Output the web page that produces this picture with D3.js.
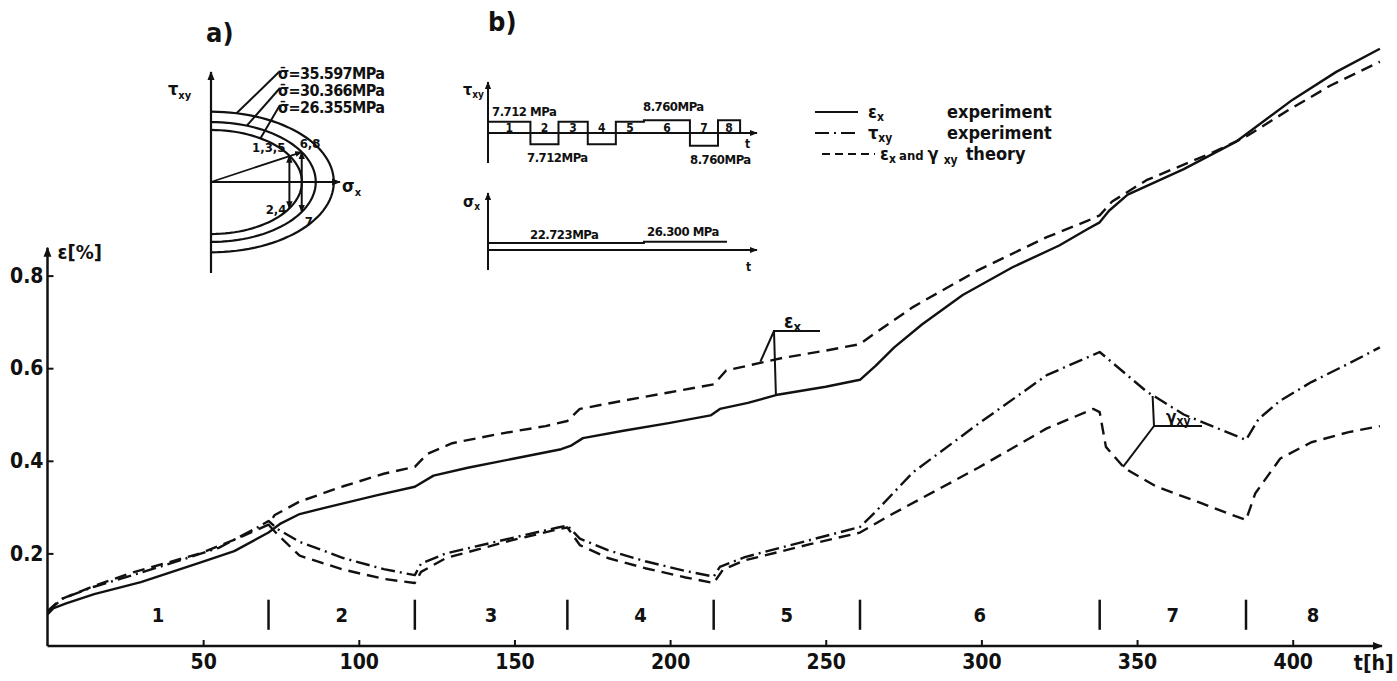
<!DOCTYPE html>
<html>
<head>
<meta charset="utf-8">
<script src="https://cdn.jsdelivr.net/npm/d3@7"></script>
<style>
  body { margin: 0; background: #fff; }
  svg text { font-family: "DejaVu Sans Condensed", "DejaVu Sans", sans-serif; font-weight: bold; fill: #111; }
</style>
</head>
<body>
<svg id="chart" width="1397" height="681"></svg>
<script>
// ---- data ----
const periodBounds = [0, 71, 118, 167, 214, 261, 338, 385];
const periodEnd = 428;
const periodLabels = ["1", "2", "3", "4", "5", "6", "7", "8"];
const xTicks = [50, 100, 150, 200, 250, 300, 350, 400];
const yTicks = [0.2, 0.4, 0.6, 0.8];

// [t (h), strain (%)]
const epsExperiment = [[0,0.068],[2,0.082],[6,0.092],[15,0.112],[30,0.138],[49,0.18],[60,0.205],[71,0.245],[75,0.265],[81,0.285],[90,0.3],[106,0.326],[118,0.344],[124,0.368],[135,0.385],[150,0.405],[165,0.425],[168,0.432],[172,0.449],[185,0.465],[200,0.482],[213,0.498],[216,0.512],[225,0.525],[234,0.542],[250,0.56],[261,0.575],[266,0.605],[272,0.645],[281,0.695],[294,0.758],[310,0.818],[325,0.865],[334,0.9],[338,0.915],[341,0.94],[347,0.975],[365,1.03],[382,1.09],[386,1.11],[400,1.18],[414,1.24],[428,1.29]];
const gammaExperiment = [[0,0.075],[5,0.103],[15,0.128],[38,0.175],[55,0.212],[68,0.258],[71,0.27],[74,0.252],[81,0.225],[95,0.19],[108,0.166],[118,0.153],[120,0.178],[128,0.2],[149,0.233],[164,0.256],[167,0.26],[171,0.232],[180,0.207],[192,0.183],[205,0.162],[214,0.15],[216,0.171],[224,0.192],[245,0.229],[261,0.257],[266,0.29],[278,0.375],[299,0.48],[321,0.585],[338,0.635],[353,0.55],[365,0.5],[385,0.445],[389,0.49],[396,0.53],[406,0.57],[418,0.61],[428,0.645]];
const epsTheory = [[0,0.075],[4,0.1],[15,0.13],[27,0.158],[49,0.2],[62,0.235],[71,0.262],[73,0.283],[81,0.312],[95,0.345],[108,0.372],[118,0.387],[122,0.415],[130,0.438],[145,0.458],[160,0.475],[167,0.486],[171,0.512],[185,0.53],[200,0.548],[214,0.565],[218,0.595],[226,0.607],[236,0.622],[250,0.638],[261,0.652],[264,0.667],[278,0.732],[299,0.812],[321,0.883],[334,0.918],[338,0.93],[342,0.96],[353,1.006],[374,1.065],[385,1.1],[398,1.155],[412,1.21],[428,1.262]];
const gammaTheory = [[71,0.262],[74,0.24],[81,0.195],[95,0.165],[108,0.145],[118,0.136],[120,0.16],[128,0.19],[149,0.228],[164,0.252],[167,0.256],[171,0.218],[180,0.19],[192,0.168],[205,0.148],[214,0.136],[217,0.165],[224,0.185],[245,0.22],[261,0.245],[270,0.28],[299,0.385],[321,0.47],[336,0.512],[338,0.505],[340,0.43],[346,0.384],[356,0.345],[370,0.31],[385,0.272],[388,0.33],[396,0.405],[406,0.44],[418,0.462],[428,0.475]];

// inset a): yield surfaces and stress states (MPa)
const sigmaBar = [35.597, 30.366, 26.355];
const sigmaBarLeaderAngle = [78, 70, 57];
const stateSigma = [22.723, 26.3];
const stateTau = [7.712, 8.76];
const stateLabelsUp = ["1,3,5", "6,8"];
const stateLabelsDown = ["2,4", "7"];

// inset b): loading programme (MPa)
const tauSteps = [7.712, -7.712, 7.712, -7.712, 7.712, 8.76, -8.76, 8.76];
const tauStepEnd = 422;
const sigmaSteps = [[0, 22.723], [261, 26.3]];
const sigmaStepEnd = 400;

const svg = d3.select("#chart");

// marker for arrow heads
svg.append("defs").append("marker")
    .attr("id", "arrow")
    .attr("viewBox", "0 0 10 10")
    .attr("refX", 9).attr("refY", 5)
    .attr("markerWidth", 4).attr("markerHeight", 4)
    .attr("orient", "auto")
    .append("path").attr("d", "M0,1 L10,5 L0,9 Z").attr("fill", "#111");

// ---- main chart ----
const x = d3.scaleLinear().domain([0, 400]).range([47.5, 1292.7]);
const y = d3.scaleLinear().domain([0, 0.8]).range([646, 275.6]);

const main = svg.append("g");

// axes
main.append("line")
    .attr("x1", x(0)).attr("y1", y(0)).attr("x2", x(periodEnd) + 2).attr("y2", y(0))
    .attr("stroke", "#111").attr("stroke-width", 2.5).attr("marker-end", "url(#arrow)");
main.append("line")
    .attr("x1", x(0)).attr("y1", y(0)).attr("x2", x(0)).attr("y2", y(0.86))
    .attr("stroke", "#111").attr("stroke-width", 2.5).attr("marker-end", "url(#arrow)");

main.append("g")
    .attr("transform", `translate(0,${y(0)})`)
    .call(d3.axisBottom(x).tickValues(xTicks).tickSize(-6).tickPadding(8))
    .call(g => g.select(".domain").remove())
    .call(g => g.selectAll(".tick line").attr("stroke", "#111").attr("stroke-width", 2))
    .call(g => g.selectAll(".tick text").attr("font-size", 21).attr("font-family", null));

main.append("g")
    .attr("transform", `translate(${x(0)},0)`)
    .call(d3.axisLeft(y).tickValues(yTicks).tickSize(-6).tickPadding(4).tickFormat(d3.format(".1f")))
    .call(g => g.select(".domain").remove())
    .call(g => g.selectAll(".tick line").attr("stroke", "#111").attr("stroke-width", 2))
    .call(g => g.selectAll(".tick text").attr("font-size", 21).attr("font-family", null));

main.append("text").attr("x", x(0) + 10).attr("y", y(0.86) + 11)
    .attr("font-size", 20).text("ε[%]");
main.append("text").attr("x", x(periodEnd) - 26).attr("y", y(0) + 24)
    .attr("font-size", 21).text("t[h]");

// period markers and numbers
main.selectAll(".pmark")
    .data(periodBounds.slice(1))
    .enter().append("line")
    .attr("class", "pmark")
    .attr("x1", d => x(d)).attr("x2", d => x(d))
    .attr("y1", y(0.1)).attr("y2", y(0.035))
    .attr("stroke", "#111").attr("stroke-width", 2.5);

main.selectAll(".plabel")
    .data(periodLabels)
    .enter().append("text")
    .attr("class", "plabel")
    .attr("x", (d, i) => x(((periodBounds[i]) + (periodBounds[i + 1] !== undefined ? periodBounds[i + 1] : periodEnd)) / 2))
    .attr("y", y(0.067) + 7)
    .attr("text-anchor", "middle")
    .attr("font-size", 20)
    .text(d => d);

// curves
const line = d3.line().x(d => x(d[0])).y(d => y(d[1]));
const curves = [
    { data: epsExperiment, dash: null },
    { data: gammaExperiment, dash: "14,5,2,5" },
    { data: epsTheory, dash: "12,7" },
    { data: gammaTheory, dash: "12,7" }
];
main.selectAll(".curve")
    .data(curves)
    .enter().append("path")
    .attr("class", "curve")
    .attr("d", d => line(d.data))
    .attr("fill", "none")
    .attr("stroke", "#111")
    .attr("stroke-width", 2.4)
    .attr("stroke-linejoin", "round")
    .attr("stroke-dasharray", d => d.dash);

// curve labels
const exKnot = [774, 331];
main.append("path")
    .attr("d", `M${x(234)},${y(0.54)} L${exKnot[0]},${exKnot[1]} L${exKnot[0] + 46},${exKnot[1]}`)
    .attr("fill", "none").attr("stroke", "#111").attr("stroke-width", 2);
main.append("path")
    .attr("d", `M${x(229)},${y(0.614)} L${exKnot[0]},${exKnot[1]}`)
    .attr("fill", "none").attr("stroke", "#111").attr("stroke-width", 2);
main.append("text").attr("x", exKnot[0] + 10).attr("y", exKnot[1] - 3)
    .attr("font-size", 19).text("ε").append("tspan").attr("font-size", 13).attr("dy", 3).text("x");

const gKnot = [1154, 426];
main.append("path")
    .attr("d", `M${x(355)},${y(0.54)} L${gKnot[0]},${gKnot[1]} L${gKnot[0] + 48},${gKnot[1]}`)
    .attr("fill", "none").attr("stroke", "#111").attr("stroke-width", 2);
main.append("path")
    .attr("d", `M${x(345.5)},${y(0.387)} L${gKnot[0]},${gKnot[1]}`)
    .attr("fill", "none").attr("stroke", "#111").attr("stroke-width", 2);
main.append("text").attr("x", gKnot[0] + 12).attr("y", gKnot[1] - 3)
    .attr("font-size", 17).text("γ").append("tspan").attr("font-size", 12).attr("dy", 2).text("xy");

// legend
const legendRows = [
    { dash: null, sym: "ε", sub: "x", rest: "experiment", y: 112 },
    { dash: "14,5,2,5", sym: "τ", sub: "xy", rest: "experiment", y: 133 },
    { dash: "8,5", sym: "ε", sub: "x", rest: null, y: 154 }
];
const legend = svg.append("g");
legendRows.forEach((r, i) => {
    legend.append("line")
        .attr("x1", i === 2 ? 822 : 815).attr("x2", i === 2 ? 875 : 858)
        .attr("y1", r.y).attr("y2", r.y)
        .attr("stroke", "#111").attr("stroke-width", 2.2)
        .attr("stroke-dasharray", r.dash);
    const t = legend.append("text").attr("x", i === 2 ? 880 : 868).attr("y", r.y + 6).attr("font-size", 18);
    t.append("tspan").text(r.sym);
    t.append("tspan").attr("font-size", 12).attr("dy", 3).text(r.sub);
    if (r.rest) {
        legend.append("text").attr("x", 947).attr("y", r.y + 6).attr("font-size", 18).text(r.rest);
    } else {
        t.append("tspan").attr("font-size", 13).attr("dy", -3).attr("dx", 3).text("and");
        t.append("tspan").attr("font-size", 18).attr("dx", 4).text("γ");
        t.append("tspan").attr("font-size", 12).attr("dy", 4).attr("dx", 5).text("xy");
        t.append("tspan").attr("font-size", 18).attr("dy", -4).attr("dx", 8).text("theory");
    }
});

// ---- inset a) ----
const ia = svg.append("g");
const sa = d3.scaleLinear().domain([0, 35]).range([211, 211 + 35 * 3.45]);
const ta = d3.scaleLinear().domain([-20, 20]).range([182 + 20 * 3.42, 182 - 20 * 3.42]);

ia.append("text").attr("x", 206).attr("y", 42).attr("font-size", 27).attr("font-weight", "normal").text("a)");
ia.append("line").attr("x1", sa(0)).attr("y1", 273).attr("x2", sa(0)).attr("y2", 72)
    .attr("stroke", "#111").attr("stroke-width", 2.2).attr("marker-end", "url(#arrow)");
ia.append("line").attr("x1", sa(0)).attr("y1", ta(0)).attr("x2", 340).attr("y2", ta(0))
    .attr("stroke", "#111").attr("stroke-width", 2.2).attr("marker-end", "url(#arrow)");
ia.append("text").attr("x", 168).attr("y", 95).attr("font-size", 18).text("τ")
    .append("tspan").attr("font-size", 11).attr("dy", 4).text("xy");
ia.append("text").attr("x", 342).attr("y", 192).attr("font-size", 18).text("σ")
    .append("tspan").attr("font-size", 11).attr("dy", 4).text("x");

const angles = d3.range(-90, 91, 3).map(a => a * Math.PI / 180);
const ell = d3.line().x(d => sa(d[0])).y(d => ta(d[1]));
ia.selectAll(".ys")
    .data(sigmaBar)
    .enter().append("path")
    .attr("class", "ys")
    .attr("d", s => ell(angles.map(a => [s * Math.cos(a), s / Math.sqrt(3) * Math.sin(a)])))
    .attr("fill", "none").attr("stroke", "#111").attr("stroke-width", 2.2);

sigmaBar.forEach((s, i) => {
    const a = sigmaBarLeaderAngle[i] * Math.PI / 180;
    const px = sa(s * Math.cos(a)), py = ta(s / Math.sqrt(3) * Math.sin(a));
    const ly = 74 + i * 17;
    ia.append("line").attr("x1", px).attr("y1", py).attr("x2", 280).attr("y2", ly - 3)
        .attr("stroke", "#111").attr("stroke-width", 2);
    ia.append("text").attr("x", 278).attr("y", ly + 5).attr("font-size", 16).attr("letter-spacing", -0.6)
        .text("σ\u0304=" + d3.format(".3f")(s) + "MPa");
});

stateSigma.forEach((s, i) => {
    ia.append("line")
        .attr("x1", sa(s)).attr("x2", sa(s))
        .attr("y1", ta(0)).attr("y2", ta(stateTau[i]))
        .attr("stroke", "#111").attr("stroke-width", 2).attr("marker-end", "url(#arrow)");
    ia.append("line")
        .attr("x1", sa(s)).attr("x2", sa(s))
        .attr("y1", ta(0)).attr("y2", ta(-stateTau[i]))
        .attr("stroke", "#111").attr("stroke-width", 2).attr("marker-end", "url(#arrow)");
});
ia.append("line")
    .attr("x1", sa(0)).attr("y1", ta(0))
    .attr("x2", sa(stateSigma[1])).attr("y2", ta(stateTau[1]))
    .attr("stroke", "#111").attr("stroke-width", 1.8).attr("marker-end", "url(#arrow)");
ia.append("text").attr("x", sa(stateSigma[0]) - 4).attr("y", ta(stateTau[0]) - 4)
    .attr("text-anchor", "end").attr("font-size", 13).text(stateLabelsUp[0]);
ia.append("text").attr("x", sa(stateSigma[1]) - 2).attr("y", ta(stateTau[1]) - 4)
    .attr("font-size", 13).text(stateLabelsUp[1]);
ia.append("text").attr("x", sa(stateSigma[0]) - 3).attr("y", ta(-stateTau[0]) + 6)
    .attr("text-anchor", "end").attr("font-size", 13).text(stateLabelsDown[0]);
ia.append("text").attr("x", sa(stateSigma[1]) + 3).attr("y", ta(-stateTau[1]) + 14)
    .attr("font-size", 13).text(stateLabelsDown[1]);

// ---- inset b) ----
const ib = svg.append("g");
const tb = d3.scaleLinear().domain([0, periodBounds[7]]).range([488, 718]);
const taub = d3.scaleLinear().domain([0, 10]).range([133, 118.5]);
const sigb = d3.scaleLinear().domain([0, 30]).range([250, 240.6]);

ib.append("text").attr("x", 488).attr("y", 31).attr("font-size", 27).attr("font-weight", "normal").text("b)");

// tau programme
ib.append("line").attr("x1", tb(0)).attr("y1", 163).attr("x2", tb(0)).attr("y2", 82)
    .attr("stroke", "#111").attr("stroke-width", 2).attr("marker-end", "url(#arrow)");
ib.append("line").attr("x1", tb(0)).attr("y1", taub(0)).attr("x2", 757).attr("y2", taub(0))
    .attr("stroke", "#111").attr("stroke-width", 2).attr("marker-end", "url(#arrow)");
ib.append("text").attr("x", 463).attr("y", 95).attr("font-size", 16).text("τ")
    .append("tspan").attr("font-size", 10).attr("dy", 3).text("xy");
ib.append("text").attr("x", 745).attr("y", 148).attr("font-size", 12).text("t");

const stepPts = [[0, 0]];
tauSteps.forEach((v, i) => {
    const t0 = periodBounds[i];
    const t1 = i + 1 < periodBounds.length ? periodBounds[i + 1] : tauStepEnd;
    stepPts.push([t0, v], [t1, v]);
});
stepPts.push([tauStepEnd, 0]);
ib.append("path")
    .attr("d", d3.line().x(d => tb(d[0])).y(d => taub(d[1]))(stepPts))
    .attr("fill", "none").attr("stroke", "#111").attr("stroke-width", 2);
ib.selectAll(".tlab")
    .data(periodLabels)
    .enter().append("text")
    .attr("class", "tlab")
    .attr("x", (d, i) => tb(((periodBounds[i]) + (i + 1 < periodBounds.length ? periodBounds[i + 1] : tauStepEnd)) / 2))
    .attr("y", 132)
    .attr("text-anchor", "middle").attr("font-size", 12).text(d => d);

ib.append("text").attr("x", 492).attr("y", 116).attr("font-size", 13).attr("letter-spacing", -0.5).text("7.712 MPa");
ib.append("text").attr("x", 527).attr("y", 162).attr("font-size", 13).attr("letter-spacing", -0.5).text("7.712MPa");
ib.append("text").attr("x", 643).attr("y", 111).attr("font-size", 13).attr("letter-spacing", -0.5).text("8.760MPa");
ib.append("text").attr("x", 690).attr("y", 164).attr("font-size", 13).attr("letter-spacing", -0.5).text("8.760MPa");

// sigma programme
ib.append("line").attr("x1", tb(0)).attr("y1", 270).attr("x2", tb(0)).attr("y2", 193)
    .attr("stroke", "#111").attr("stroke-width", 2).attr("marker-end", "url(#arrow)");
ib.append("line").attr("x1", tb(0)).attr("y1", sigb(0)).attr("x2", 757).attr("y2", sigb(0))
    .attr("stroke", "#111").attr("stroke-width", 2).attr("marker-end", "url(#arrow)");
ib.append("text").attr("x", 463).attr("y", 207).attr("font-size", 16).text("σ")
    .append("tspan").attr("font-size", 10).attr("dy", 3).text("x");
ib.append("text").attr("x", 746).attr("y", 271).attr("font-size", 12).text("t");
const sigPts = [[0, sigmaSteps[0][1]], [sigmaSteps[1][0], sigmaSteps[0][1]], [sigmaSteps[1][0], sigmaSteps[1][1]], [sigmaStepEnd, sigmaSteps[1][1]]];
ib.append("path")
    .attr("d", d3.line().x(d => tb(d[0])).y(d => sigb(d[1]))(sigPts))
    .attr("fill", "none").attr("stroke", "#111").attr("stroke-width", 2);
ib.append("text").attr("x", 530).attr("y", 239).attr("font-size", 13).attr("letter-spacing", -0.5).text("22.723MPa");
ib.append("text").attr("x", 647).attr("y", 236).attr("font-size", 13).attr("letter-spacing", -0.5).text("26.300 MPa");
</script>
</body>
</html>
